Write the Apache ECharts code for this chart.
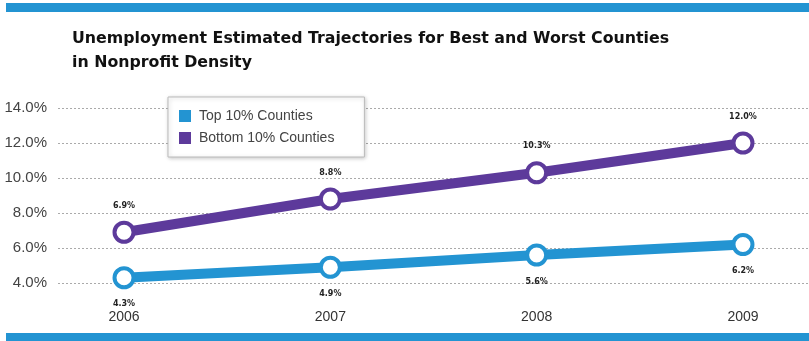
<!DOCTYPE html>
<html>
<head>
<meta charset="utf-8">
<script src="https://cdn.jsdelivr.net/npm/echarts@6/dist/echarts.min.js"></script>
<style>
  html, body { margin: 0; padding: 0; background: #fff; }
  #chart { width: 809px; height: 341px; }
</style>
</head>
<body>
<div id="chart"></div>
<script>
// Years on the horizontal axis
const years = [2006, 2007, 2008, 2009];
// Estimated unemployment rate (%) per group
const topCounties = [4.3, 4.9, 5.6, 6.2];
const bottomCounties = [6.9, 8.8, 10.3, 12.0];
// Vertical axis ticks (%)
const yTicks = [4, 6, 8, 10, 12, 14];

const BLUE = '#2394d2';
const PURPLE = '#5d3a9b';

const chart = echarts.init(document.getElementById('chart'), null, { renderer: 'canvas' });

function pairs(vals) {
  return years.map((y, i) => [y, vals[i]]);
}

function lineSeries(name, vals, color, labelPos) {
  return {
    name: name,
    type: 'line',
    data: pairs(vals),
    symbol: 'circle',
    symbolSize: 19,
    lineStyle: { color: color, width: 10 },
    itemStyle: { color: '#fff', borderColor: color, borderWidth: 4 },
    label: {
      show: true,
      position: labelPos,
      distance: 11,
      fontFamily: 'DejaVu Sans',
      fontWeight: 'bold',
      fontSize: 8,
      color: '#222',
      formatter: p => p.value[1].toFixed(1) + '%'
    },
    emphasis: { disabled: true },
    z: 3
  };
}

chart.setOption({
  animation: false,
  title: {
    text: 'Unemployment Estimated Trajectories for Best and Worst Counties\nin Nonprofit Density',
    left: 67,
    top: 22,
    textStyle: {
      fontFamily: 'DejaVu Sans',
      fontWeight: 'bold',
      fontSize: 15.8,
      lineHeight: 24,
      color: '#111'
    }
  },
  legend: {
    left: 168,
    top: 97,
    orient: 'vertical',
    itemWidth: 12,
    itemHeight: 12,
    itemGap: 8,
    padding: [12, 30, 12, 11],
    backgroundColor: '#fff',
    borderColor: '#bbb',
    borderWidth: 1,
    shadowColor: 'rgba(0,0,0,0.22)',
    shadowBlur: 4,
    shadowOffsetX: 1,
    shadowOffsetY: 1,
    icon: 'rect',
    textStyle: { fontFamily: 'Liberation Sans', fontSize: 14, color: '#444', padding: [0, 0, 0, 3] },
    data: [
      { name: 'Top 10% Counties', itemStyle: { color: BLUE, borderWidth: 0 } },
      { name: 'Bottom 10% Counties', itemStyle: { color: PURPLE, borderWidth: 0 } }
    ]
  },
  grid: { left: 58, right: 0, top: 108, bottom: 58 },
  xAxis: {
    type: 'value',
    min: 2005.68,
    max: 2009.32,
    axisLine: { show: false },
    axisTick: { show: false },
    splitLine: { show: false },
    axisLabel: {
      customValues: years,
      margin: 27,
      fontFamily: 'Liberation Sans',
      fontSize: 14,
      color: '#333',
      formatter: v => String(Math.round(v))
    }
  },
  yAxis: {
    type: 'value',
    min: yTicks[0],
    max: yTicks[yTicks.length - 1],
    interval: 2,
    axisLine: { show: false },
    axisTick: { show: false },
    axisLabel: {
      margin: 11,
      fontFamily: 'Liberation Sans',
      fontSize: 15,
      color: '#444',
      formatter: v => v.toFixed(1) + '%'
    },
    splitLine: { lineStyle: { color: '#aaa', type: [2, 2], width: 1 } }
  },
  graphic: [
    { type: 'rect', shape: { x: 6, y: 3, width: 803, height: 9 }, style: { fill: BLUE } },
    { type: 'rect', shape: { x: 6, y: 333, width: 803, height: 8 }, style: { fill: BLUE } }
  ],
  series: [
    lineSeries('Top 10% Counties', topCounties, BLUE, 'bottom'),
    lineSeries('Bottom 10% Counties', bottomCounties, PURPLE, 'top')
  ]
});
</script>
</body>
</html>
